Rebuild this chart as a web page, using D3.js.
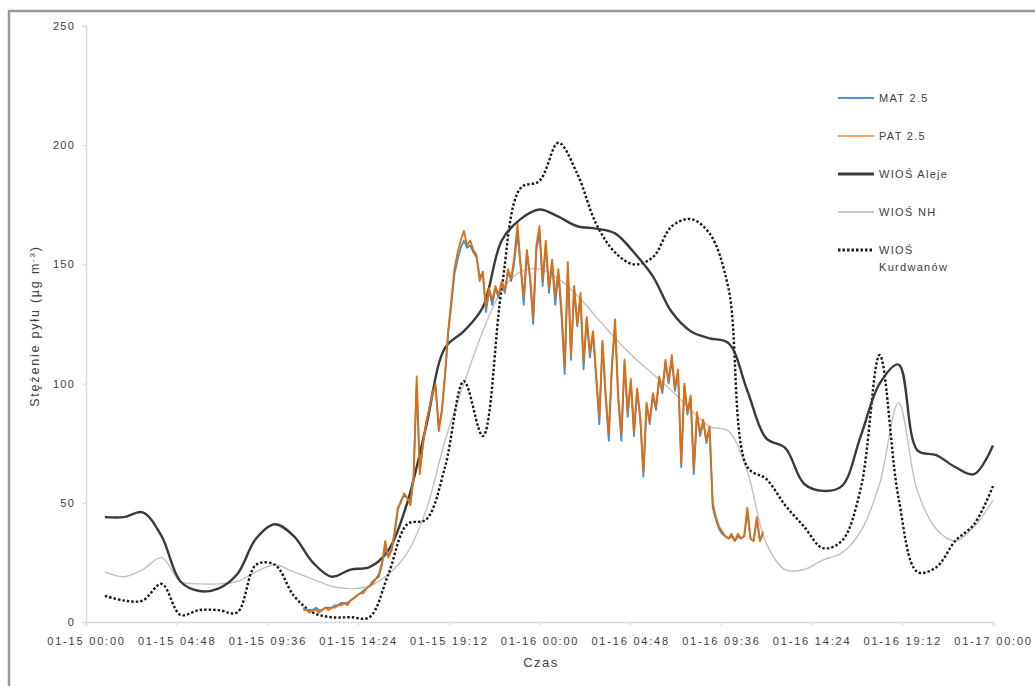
<!DOCTYPE html>
<html>
<head>
<meta charset="utf-8">
<script src="https://cdn.jsdelivr.net/npm/d3@7"></script>
<style>
  body { margin: 0; background: #fff; }
  svg { display: block; font-family: "Liberation Sans", Arial, sans-serif; }
</style>
</head>
<body>
<script>
// Wymiary
const w = 1035;
const h = 686;
const plotLeft = 86, plotRight = 993, plotTop = 26, plotBottom = 622;

// Dane: godziny pomiarów WIOŚ (od 01-15 00:00)
const wiosHours = [1,2,3,4,5,6,7,8,9,10,11,12,13,14,15,16,17,18,19,20,21,22,23,24,
                   25,26,27,28,29,30,31,32,33,34,35,36,37,38,39,40,41,42,43,44,45,46,47,48];
const aleje = [44,44,46,36,17,13,14,20,35,41,36,25,19,22,23,30,50,82,115,122,132,160,169,173,
               170,166,165,163,155,145,130,122,119,117,97,77,73,58,55,57,78,100,108,72,70,65,62,74];
const nh = [21,19,22,27,17,16,16,17,21,24,21,18,15,14,15,20,29,47,76,100,122,139,147,148,
            144,137,128,119,111,104,97,89,82,80,63,33,22,22,26,29,38,58,92,55,39,34,40,51];
const kurdwanow = [11,9,9,16,3,5,5,4,24,24,11,4,2,2,2,20,41,43,65,101,78,140,182,185,
                   201,188,167,155,150,153,166,169,163,140,65,60,49,40,31,34,56,112,52,21,23,34,41,57];

// Dane czujników (co 10 min od 11:30)
const sensorStart = 11.5;
const sensorStep = 1 / 6;
const pat = [5,5,4,
             5,5,4,5,6,5, 6,6,7,7,8,7, 9,10,11,12,12,14, 15,16,18,19,24,34,
             27,30,38,48,50,54, 52,49,60,103,62,75, 83,90,95,100,80,88, 104,122,135,148,155,160,
             164,158,160,156,154,143, 147,132,140,135,141,137, 143,139,148,144,153,167,
             150,136,156,145,128,158, 166,143,160,140,152,136, 148,131,107,151,112,141,
             125,138,109,128,113,122, 104,86,118,96,79,108, 127,95,79,110,88,102,
             80,98,86,63,92,84, 96,90,103,97,110,101, 112,98,106,67,100,88,
             95,64,88,79,85,76, 82,50,44,40,38,36, 35,37,34,37,35,36, 48,35,34,44,34,38];
const mat = [6,5,5,
             5,6,5,5,6,6, 6,7,7,8,8,8, 9,10,11,12,13,14, 15,17,18,20,25,31,
             28,30,37,47,51,53, 52,50,61,99,64,74, 84,89,97,98,82,89, 103,121,133,146,152,157,
             160,157,158,155,153,145, 146,130,139,133,140,136, 142,138,147,143,151,163,
             149,133,155,144,125,156, 163,141,158,138,150,133, 146,128,104,148,110,140,
             124,136,106,127,111,121, 102,83,117,94,76,107, 124,93,76,109,86,101,
             78,97,85,61,91,83, 95,89,102,96,109,100, 110,97,105,65,99,87,
             94,62,87,78,84,75, 81,48,43,39,37,36, 35,36,34,36,35,36, 46,35,34,43,34,37];

// Etykiety osi
const yTicks = [0, 50, 100, 150, 200, 250];
const xTickHours = [0, 4.8, 9.6, 14.4, 19.2, 24, 28.8, 33.6, 38.4, 43.2, 48];
const xTickLabels = ["01-15 00:00","01-15 04:48","01-15 09:36","01-15 14:24","01-15 19:12",
                     "01-16 00:00","01-16 04:48","01-16 09:36","01-16 14:24","01-16 19:12","01-17 00:00"];

const svg = d3.select("body").append("svg")
    .attr("width", w)
    .attr("height", h);

// Ramka
svg.append("rect")
    .attr("x", 9).attr("y", 11)
    .attr("width", w + 20).attr("height", h + 20)
    .attr("fill", "none")
    .attr("stroke", "#9a9a9a")
    .attr("stroke-width", 2.5);

// Skale
const xScale = d3.scaleLinear().domain([0, 48]).range([plotLeft, plotRight]);
const yScale = d3.scaleLinear().domain([0, 250]).range([plotBottom, plotTop]);

// Oś Y
const yAxis = d3.axisLeft(yScale).tickValues(yTicks).tickSize(4).tickPadding(7);
const gy = svg.append("g").attr("transform", `translate(${plotLeft},0)`).call(yAxis);
gy.select(".domain").attr("stroke", "#d9d9d9").attr("stroke-width", 1.5);
gy.selectAll(".tick line").attr("stroke", "#d9d9d9");
gy.selectAll(".tick text").attr("fill", "#404040").attr("font-size", "11px")
    .attr("letter-spacing", "1.2px")
    .attr("font-family", "Liberation Sans, Arial, sans-serif");

// Oś X
const xAxis = d3.axisBottom(xScale).tickValues(xTickHours)
    .tickFormat((d, i) => xTickLabels[i]).tickSize(4).tickPadding(11);
const gx = svg.append("g").attr("transform", `translate(0,${plotBottom})`).call(xAxis);
gx.select(".domain").attr("stroke", "#d9d9d9").attr("stroke-width", 1.5);
gx.selectAll(".tick line").attr("stroke", "#d9d9d9");
gx.selectAll(".tick text").attr("fill", "#404040").attr("font-size", "11px")
    .attr("letter-spacing", "1.8px")
    .attr("font-family", "Liberation Sans, Arial, sans-serif");

// Tytuły osi
svg.append("text")
    .attr("x", 541).attr("y", 667)
    .attr("text-anchor", "middle")
    .attr("font-size", "13px")
    .attr("letter-spacing", "1.5px")
    .attr("fill", "#404040")
    .text("Czas");

const yTitle = svg.append("text")
    .attr("transform", "translate(39,326) rotate(-90)")
    .attr("text-anchor", "middle")
    .attr("font-size", "12.5px")
    .attr("letter-spacing", "1.8px")
    .attr("fill", "#404040");
yTitle.append("tspan").text("Stężenie pyłu (µg m");
yTitle.append("tspan").attr("baseline-shift", "super").attr("font-size", "8px").text("-3");
yTitle.append("tspan").text(")");

// Linie
const smooth = d3.line()
    .x((d) => xScale(d[0]))
    .y((d) => yScale(d[1]))
    .curve(d3.curveCatmullRom.alpha(0.5));
const straight = d3.line()
    .x((d) => xScale(d[0]))
    .y((d) => yScale(d[1]));

const sensorPts = (arr) => arr.map((v, i) => [sensorStart + i * sensorStep, v]);
const wiosPts = (arr) => arr.map((v, i) => [wiosHours[i], v]);

const series = [
    { name: "MAT 2.5", pts: sensorPts(mat), gen: straight, color: "#3d8fd6", width: 1.8, dash: null },
    { name: "PAT 2.5", pts: sensorPts(pat), gen: straight, color: "#e46c0a", width: 1.8, dash: null },
    { name: "WIOŚ Aleje", pts: wiosPts(aleje), gen: smooth, color: "#3a3a3a", width: 2.4, dash: null },
    { name: "WIOŚ NH", pts: wiosPts(nh), gen: smooth, color: "#c0c0c0", width: 1.4, dash: null },
    { name: "WIOŚ Kurdwanów", pts: wiosPts(kurdwanow), gen: smooth, color: "#1a1a1a", width: 2.4, dash: "2.5,2" }
];

// Kolejność rysowania: stacje pod spodem, czujniki na wierzchu
const drawOrder = [3, 4, 2, 0, 1];
drawOrder.forEach((k) => {
    const s = series[k];
    svg.append("path")
        .datum(s.pts)
        .attr("fill", "none")
        .attr("stroke", s.color)
        .attr("stroke-width", s.width)
        .attr("stroke-dasharray", s.dash)
        .attr("stroke-linejoin", "round")
        .attr("d", s.gen);
});

// Legenda
const legendY = [98, 136, 174, 212, 250];
const legendColors = ["#4a95dc", "#f2a56a", "#3a3a3a", "#c8c8c8", "#1a1a1a"];
const lg = svg.append("g");
series.forEach((s, i) => {
    lg.append("line")
        .attr("x1", 838).attr("x2", 874)
        .attr("y1", legendY[i]).attr("y2", legendY[i])
        .attr("stroke", legendColors[i])
        .attr("stroke-width", s.width + 0.4)
        .attr("stroke-dasharray", s.dash);
    const t = lg.append("text")
        .attr("x", 879).attr("y", legendY[i] + 4)
        .attr("font-size", "11px")
        .attr("letter-spacing", "1.3px")
        .attr("fill", "#404040");
    if (i === 4) {
        t.append("tspan").text("WIOŚ");
        t.append("tspan").attr("x", 879).attr("dy", 17).text("Kurdwanów");
    } else {
        t.text(s.name);
    }
});
</script>
</body>
</html>
